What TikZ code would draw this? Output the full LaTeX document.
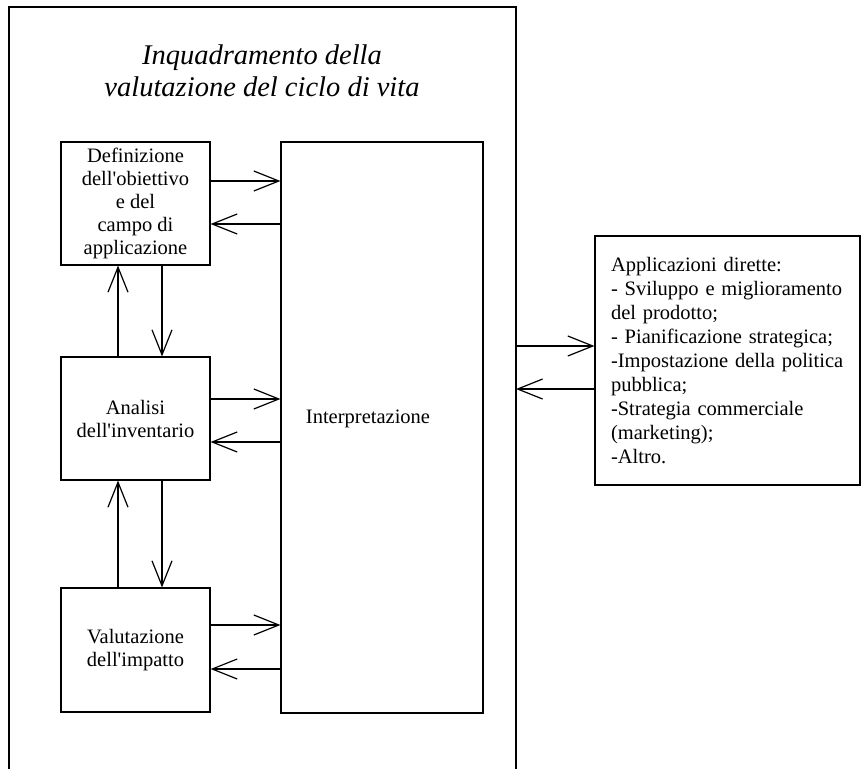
\documentclass[tikz,border=0pt]{standalone}
\usepackage{fontspec}
\setmainfont{Liberation Serif}
\usetikzlibrary{arrows.meta}

\begin{document}
\begin{tikzpicture}[x=1pt, y=-1pt, line width=1.2pt,
	>={Straight Barb[length=25pt,width=20pt]},
	box/.style = {draw, minimum width=149pt, minimum height=123pt, align=center,
		font=\fontsize{20.5}{23}\selectfont},
	txt/.style = {font=\fontsize{20.5}{23}\selectfont}]
	\useasboundingbox (0,0) rectangle (862,769);
	% cornice esterna (aperta in basso)
	\draw (9,769) -- (9,7) -- (516,7) -- (516,769);
	\coordinate (fr) at (516,360);
	\node[align=center, font=\fontsize{28.5}{32}\selectfont\itshape] (title) at (262,71)
		{Inquadramento della\\valutazione del ciclo di vita};
	\node[box] (def) at (135.5,203.5) {Definizione\\dell\textquotesingle obiettivo\\e del\\campo di\\applicazione};
	\node[box] (ana) at (135.5,418.5) {Analisi\\dell\textquotesingle inventario};
	\node[box, minimum height=124pt] (val) at (135.5,650) {Valutazione\\dell\textquotesingle impatto};
	\node[draw, minimum width=202pt, minimum height=571pt] (interp) at (382,427.5) {};
	\node[txt] (interplabel) at (368,419) {Interpretazione};
	\node[draw, minimum width=265pt, minimum height=249pt, inner xsep=16pt,
		text width=233pt, align=left, font=\fontsize{20.5}{24}\selectfont] (app) at (727.5,360.5)
		{Applicazioni dirette:\\- Sviluppo e miglioramento\\del prodotto;\\- Pianificazione strategica;\\
		 -Impostazione della politica\\pubblica;\\-Strategia commerciale\\(marketing);\\-Altro.};
	\path[->]
	(def.east |- 0,181) edge (interp.west |- 0,181)
	(interp.west |- 0,224) edge (def.east |- 0,224)
	(ana.east |- 0,399) edge (interp.west |- 0,399)
	(interp.west |- 0,442) edge (ana.east |- 0,442)
	(val.east |- 0,625) edge (interp.west |- 0,625)
	(interp.west |- 0,669) edge (val.east |- 0,669)
	(ana.north -| 118,0) edge (def.south -| 118,0)
	(def.south -| 162,0) edge (ana.north -| 162,0)
	(val.north -| 118,0) edge (ana.south -| 118,0)
	(ana.south -| 162,0) edge (val.north -| 162,0)
	(fr |- 0,346) edge (app.west |- 0,346)
	(app.west |- 0,389) edge (fr |- 0,389);
\end{tikzpicture}
\end{document}
